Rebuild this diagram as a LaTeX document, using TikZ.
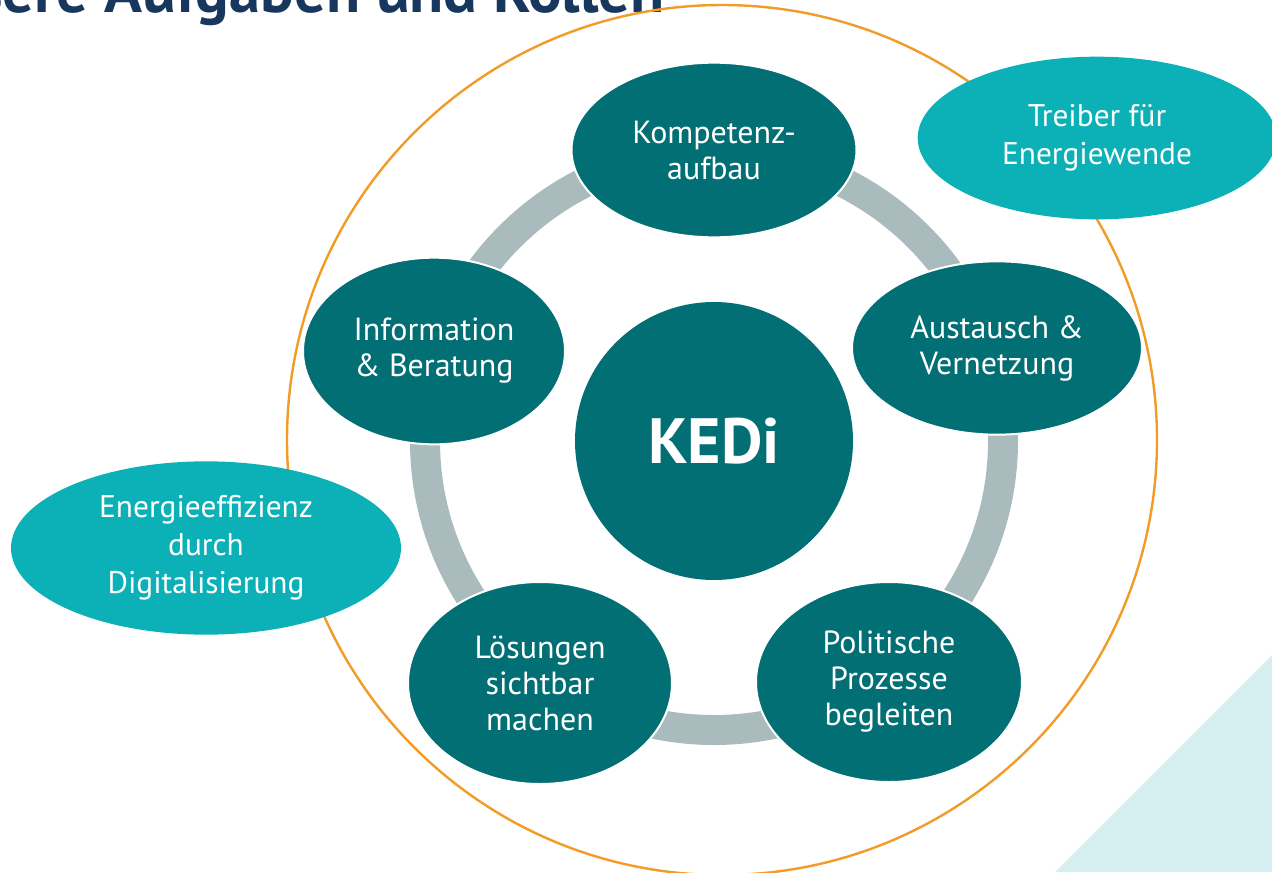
\documentclass[tikz,border=0pt]{standalone}
\usepackage{fontspec}
\setmainfont{PT Sans}
\usetikzlibrary{shapes.geometric}
\definecolor{dunkeltuerkis}{RGB}{2,111,116}
\definecolor{helltuerkis}{RGB}{11,177,182}
\definecolor{ringgrau}{RGB}{169,187,189}
\definecolor{kreisorange}{RGB}{242,155,39}
\definecolor{titelblau}{RGB}{23,55,94}
\definecolor{eckcyan}{RGB}{214,240,242}
\tikzset{
    aufgabe/.style={ellipse, fill=dunkeltuerkis, draw=white, line width=1.5pt, inner sep=0pt,
        text=white, align=center, font=\fontsize{24pt}{27pt}\selectfont},
    rolle/.style={ellipse, fill=helltuerkis, inner sep=0pt,
        text=white, align=center, font=\fontsize{23.5pt}{28.5pt}\selectfont},
}
\begin{document}
\begin{tikzpicture}[x=0.75pt,y=-0.75pt]
\useasboundingbox (0,0) rectangle (1272,872);
\clip (0,0) rectangle (1272,872);

%corner triangle
\fill [eckcyan] (1055,872) -- (1272,655) -- (1272,872) -- cycle;

%title
\node [anchor=base east, text=titelblau, font=\fontsize{47pt}{50pt}\selectfont\bfseries, inner sep=0pt] (titel) at (665,12) {Unsere Aufgaben und Rollen};

%orange circle
\draw [kreisorange, line width=1.8pt] (722,440) circle [radius=435];

%centre
\coordinate (mitte) at (714,441);
\draw [ringgrau, line width=22.5pt] (mitte) circle [radius=289];
\node [circle, fill=dunkeltuerkis, minimum size=208.5pt, inner sep=0pt, text=white,
    font=\fontsize{48pt}{52pt}\selectfont\bfseries] (kedi) at (mitte) {KEDi};

%tasks
\node [aufgabe, minimum width=213.75pt, minimum height=131pt] (kompetenz) at (714,150) {Kompetenz-\\aufbau};
\node [aufgabe, minimum width=217.5pt, minimum height=130pt] (austausch) at (997,348) {Austausch \&\\Vernetzung};
\node [aufgabe, minimum width=199.5pt, minimum height=150pt] (politik) at (889,682) {Politische\\Prozesse\\begleiten};
\node [aufgabe, minimum width=198pt, minimum height=151.5pt] (loesungen) at (540,683) {Lösungen\\sichtbar\\machen};
\node [aufgabe, minimum width=196.5pt, minimum height=140pt] (information) at (434,351) {Information\\\& Beratung};

%roles
\node [rolle, minimum width=269pt, minimum height=122pt] (treiber) at (1097,138) {Treiber für\\Energiewende};
\node [rolle, minimum width=292.5pt, minimum height=130pt] (effizienz) at (206,548) {Energieeffizienz\\durch\\Digitalisierung};

\end{tikzpicture}
\end{document}
